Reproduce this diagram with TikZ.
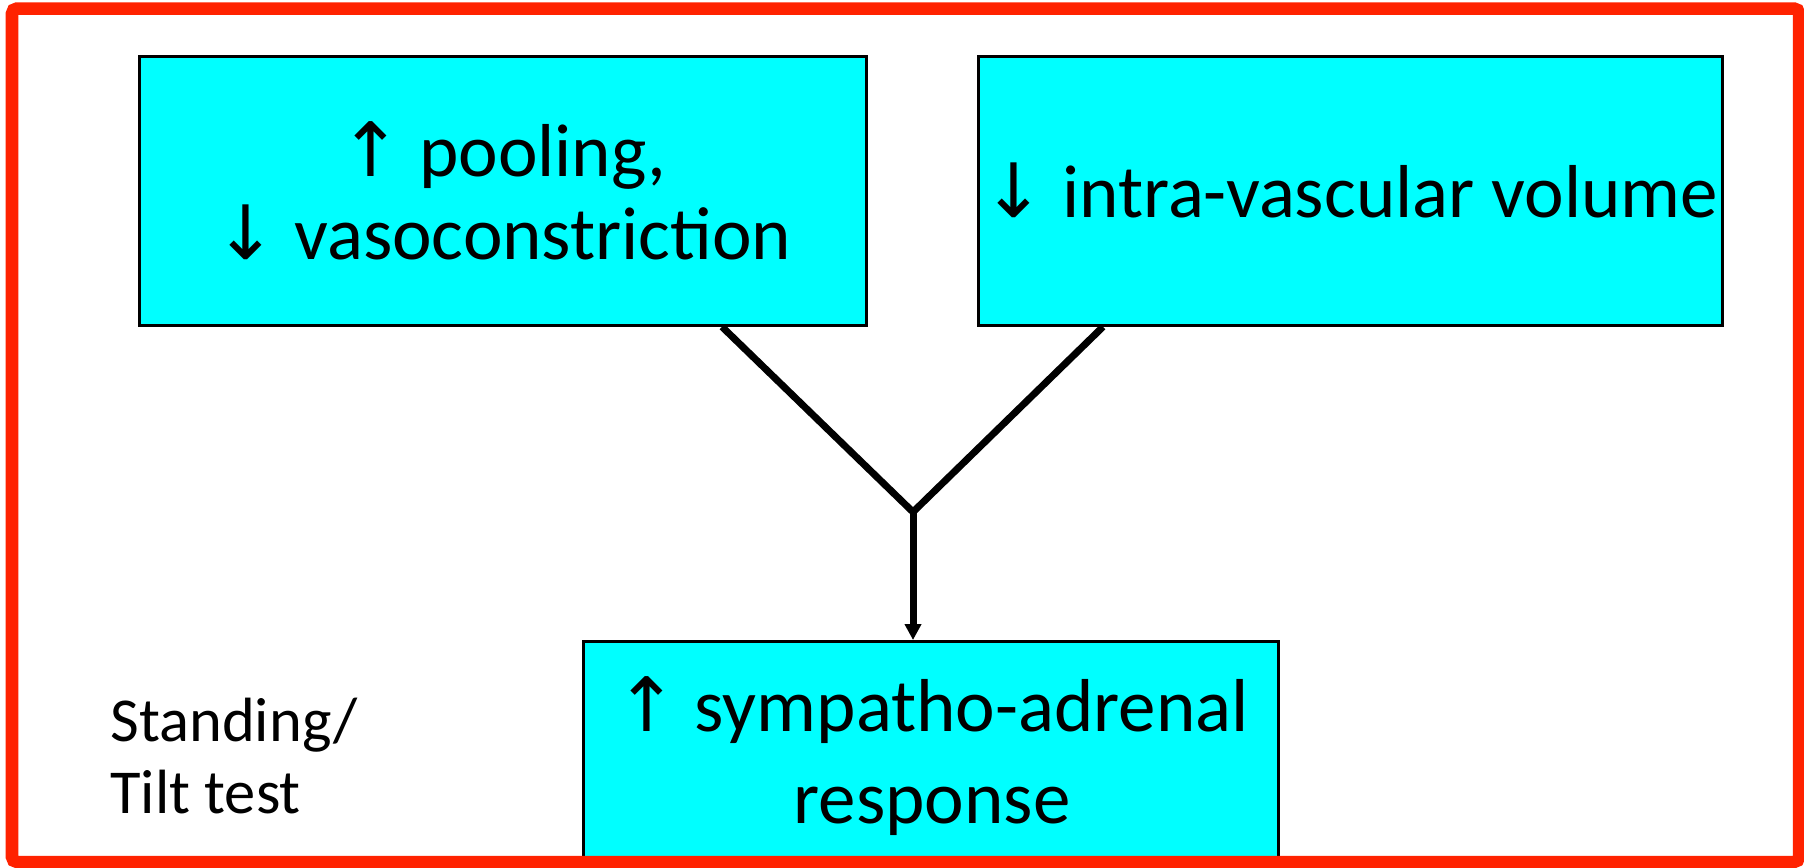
\documentclass[tikz,border=0pt]{standalone}
\usepackage{fontspec}
\setmainfont{Carlito}
\newfontfamily\arrowfont{DejaVu Sans}
\usetikzlibrary{arrows.meta}
\newcommand\uparw{{\arrowfont ↑}}
\newcommand\downarw{{\arrowfont ↓}}
\definecolor{framered}{HTML}{FF2200}
\definecolor{boxcyan}{HTML}{00FFFF}
\tikzset{
  box/.style={draw=black, line width=1.1pt, fill=boxcyan, anchor=north west,
    inner sep=0pt, align=center, font=\fontsize{30}{33.5}\selectfont},
  boxtext/.style={align=center, inner sep=0pt, font=\fontsize{30}{36.5}\selectfont},
  link/.style={draw=black, line width=2.8pt},
  sidenote/.style={align=left, inner sep=0pt, anchor=west, font=\fontsize{25}{29}\selectfont}
}
\begin{document}
\begin{tikzpicture}[x=0.4pt, y=-0.4pt]
  \useasboundingbox (0,0) rectangle (1804,867);
  \fill[white] (0,0) rectangle (1804,867);

  % upper causes
  \node[box, minimum width=290.8pt, minimum height=107.6pt] (b1) at (138,55)
    {\uparw{} pooling,\\ \downarw{} vasoconstriction};
  \node[box, minimum width=297.6pt, minimum height=107.6pt] (b2) at (977,55)
    {\downarw{} intra-vascular volume};

  % resulting response, running below the frame
  \node[box, minimum width=278pt, minimum height=92pt] (b3) at (582,640) {};
  \node[boxtext] (b3t) at (932,756) {\uparw{} sympatho-adrenal\\ response};

  % side note
  \node[sidenote] (note) at (110,756) {Standing/\\Tilt test};

  % converging connectors
  \coordinate (j) at (913,512);
  \draw[link] (b1.south -| 722,0) -- (j);
  \draw[link] (b2.south -| 1103,0) -- (j);
  \draw[link, -{Triangle[width=6.4pt, length=6.4pt]}] (j) -- (b3.north -| j);

  % outer frame
  \draw[framered, line width=5pt, rounded corners=2pt] (12,8.5) rectangle (1799,862);
\end{tikzpicture}
\end{document}
